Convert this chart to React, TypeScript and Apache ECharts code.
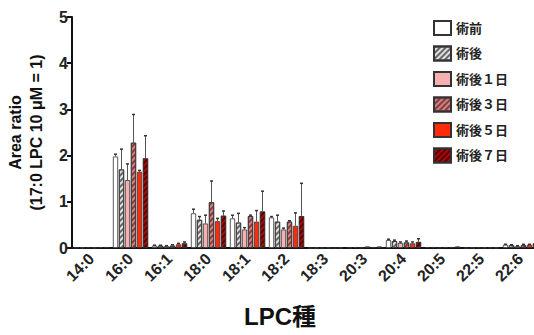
import React, { useEffect, useRef } from "react";
import * as echarts from "echarts";

const categories = ["14:0", "16:0", "16:1", "18:0", "18:1", "18:2", "18:3", "20:3", "20:4", "20:5", "22:5", "22:6"];
const seriesNames = ["術前", "術後", "術後１日", "術後３日", "術後５日", "術後７日"];
const yTicks = [0, 1, 2, 3, 4, 5];

const preOp = [0.01, 1.98, 0.05, 0.75, 0.64, 0.66, 0.0, 0.01, 0.17, 0.02, 0.0, 0.07];
const postOp = [0.01, 1.70, 0.05, 0.61, 0.55, 0.57, 0.0, 0.02, 0.15, 0.02, 0.01, 0.06];
const day1 = [0.01, 1.47, 0.04, 0.53, 0.40, 0.40, 0.0, 0.01, 0.11, 0.01, 0.01, 0.04];
const day3 = [0.01, 2.28, 0.05, 0.99, 0.69, 0.57, 0.01, 0.03, 0.12, 0.02, 0.01, 0.06];
const day5 = [0.02, 1.65, 0.08, 0.58, 0.57, 0.48, 0.0, 0.02, 0.10, 0.02, 0.01, 0.07];
const day7 = [0.02, 1.94, 0.10, 0.70, 0.79, 0.69, 0.01, 0.03, 0.13, 0.03, 0.01, 0.10];

const preOpErr = [0, 0.05, 0.01, 0.09, 0.07, 0.02, 0, 0, 0.02, 0, 0, 0.01];
const postOpErr = [0, 0.44, 0.01, 0.07, 0.20, 0.14, 0, 0, 0.02, 0, 0, 0.01];
const day1Err = [0, 0.35, 0.01, 0.18, 0.04, 0.03, 0, 0, 0.02, 0, 0, 0.01];
const day3Err = [0, 0.61, 0.02, 0.46, 0.02, 0.02, 0, 0, 0.03, 0, 0, 0.02];
const day5Err = [0, 0.03, 0.02, 0.06, 0.24, 0.28, 0, 0, 0.03, 0, 0, 0.01];
const day7Err = [0, 0.49, 0.03, 0.10, 0.44, 0.71, 0, 0, 0.07, 0, 0, 0.02];

const values = [preOp, postOp, day1, day3, day5, day7];
const errors = [preOpErr, postOpErr, day1Err, day3Err, day5Err, day7Err];

const FONT = "'Liberation Sans', Arial, 'Noto Sans CJK JP', sans-serif";
const BAR_W = 5.2;
const BAR_GAP = 0.8;

const hatch = (color: string) => ({
  symbol: "rect",
  symbolSize: 1,
  color,
  dashArrayX: [1, 0],
  dashArrayY: [1.5, 2],
  rotation: -Math.PI / 4,
});

const styles = [
  { color: "#ffffff", decal: undefined as any },
  { color: "#e0e0e0", decal: hatch("#666666") },
  { color: "#f7b0b0", decal: undefined as any },
  { color: "#c98585", decal: hatch("#8a3a3a") },
  { color: "#ff2a0a", decal: undefined as any },
  { color: "#a80a0a", decal: hatch("#5a0000") },
];

export default function App() {
  const ref = useRef<HTMLDivElement>(null);
  useEffect(() => {
    if (!ref.current) return;
    const chart = echarts.init(ref.current, undefined, { renderer: "svg" });

    const barSeries = seriesNames.map((name, i) => ({
      name,
      type: "bar",
      data: values[i],
      barWidth: BAR_W,
      barGap: ((BAR_GAP / BAR_W) * 100).toFixed(1) + "%",
      itemStyle: {
        color: styles[i].color,
        borderColor: "#333",
        borderWidth: 0.8,
        decal: styles[i].decal,
      },
      z: 2,
    }));

    const errData: number[][] = [];
    values.forEach((arr, s) => {
      arr.forEach((v, c) => {
        const e = errors[s][c];
        if (e > 0) errData.push([c, v, v + e, s]);
      });
    });

    const errSeries = {
      type: "custom",
      name: "err",
      data: errData,
      z: 3,
      renderItem: (_p: any, api: any) => {
        const c = api.value(0);
        const top = api.value(1);
        const et = api.value(2);
        const s = api.value(3);
        const p0 = api.coord([c, top]);
        const p1 = api.coord([c, et]);
        const x = p0[0] + (s - 2.5) * (BAR_W + BAR_GAP);
        const st = { stroke: "#555", lineWidth: 1 };
        return {
          type: "group",
          children: [
            { type: "line", shape: { x1: x, y1: p0[1], x2: x, y2: p1[1] }, style: st },
            { type: "line", shape: { x1: x - 1.5, y1: p1[1], x2: x + 1.5, y2: p1[1] }, style: { stroke: "#333", lineWidth: 1.5 } },
          ],
        };
      },
    };

    chart.setOption({
      animation: false,
      textStyle: { fontFamily: FONT },
      grid: { left: 72, right: -6, top: 17, bottom: 87, outerBoundsMode: "none", containLabel: false },
      legend: {
        data: seriesNames,
        orient: "vertical",
        left: 428,
        top: 15,
        icon: "rect",
        itemWidth: 17,
        itemHeight: 14,
        itemGap: 9.5,
        textStyle: { fontSize: 13, fontWeight: "bold", color: "#222", fontFamily: FONT },
      },
      xAxis: {
        type: "category",
        data: categories,
        axisLine: { lineStyle: { color: "#111", width: 2 } },
        axisTick: { alignWithLabel: true, length: 5, lineStyle: { color: "#111", width: 2 } },
        axisLabel: { rotate: 45, fontSize: 16, fontWeight: "bold", color: "#222", margin: 8, fontFamily: FONT, interval: 0 },
      },
      yAxis: {
        type: "value",
        min: 0,
        max: 5,
        interval: 1,
        name: "Area ratio\n(17:0 LPC 10 μM = 1)",
        nameLocation: "middle",
        nameRotate: 90,
        nameGap: 25,
        nameTextStyle: { fontSize: 16, fontWeight: "bold", color: "#111", lineHeight: 21, fontFamily: FONT },
        axisLine: { show: true, lineStyle: { color: "#111", width: 2 } },
        axisTick: { show: true, length: 5, lineStyle: { color: "#111", width: 2 } },
        axisLabel: { fontSize: 16, fontWeight: "bold", color: "#222", margin: 4, fontFamily: FONT, formatter: (v: number) => (yTicks.includes(v) ? String(v) : "") },
        splitLine: { show: false },
      },
      graphic: [
        {
          type: "text",
          x: 280,
          y: 316,
          style: { text: "LPC種", fontSize: 24, fontWeight: "bold", fill: "#111", align: "center", verticalAlign: "middle", fontFamily: FONT },
        },
      ],
      series: [...barSeries, errSeries],
    });
    return () => chart.dispose();
  }, []);
  return <div ref={ref} style={{ width: 534, height: 335, position: "absolute", left: 0, top: 0 }} />;
}
